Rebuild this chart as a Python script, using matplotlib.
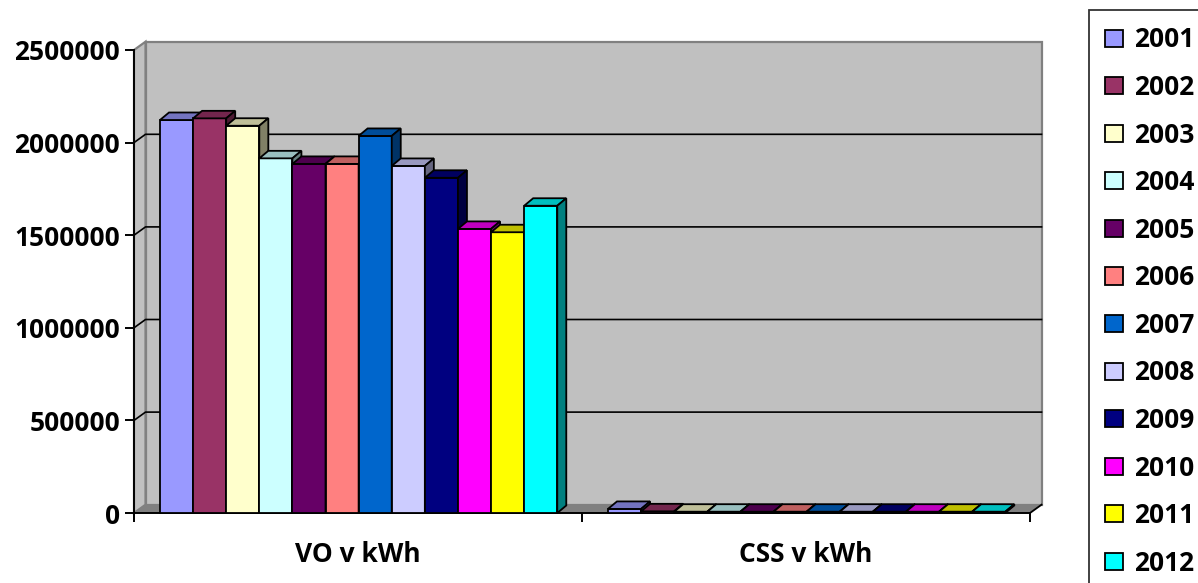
import matplotlib
matplotlib.use("Agg")
import matplotlib.pyplot as plt
from matplotlib.patches import Polygon, Patch
import matplotlib.colors as mcolors

plt.rcParams['font.family'] = ['Open Sans', 'DejaVu Sans']
plt.rcParams['font.weight'] = 'bold'

# data
categories = ["VO v kWh", "CSS v kWh"]
years = ["2001", "2002", "2003", "2004", "2005", "2006",
         "2007", "2008", "2009", "2010", "2011", "2012"]
vo_kwh = [2122000, 2131000, 2091000, 1915000, 1885000, 1885000,
          2036000, 1874000, 1810000, 1534000, 1516000, 1659000]
css_kwh = [22000, 9000, 7000, 7000, 7000, 7000,
           7000, 7000, 7000, 7000, 7000, 7000]
y_ticks = [0, 500000, 1000000, 1500000, 2000000, 2500000]

colors = ["#9999FF", "#993366", "#FFFFCC", "#CCFFFF", "#660066", "#FF8080",
          "#0066CC", "#CCCCFF", "#000080", "#FF00FF", "#FFFF00", "#00FFFF"]

ymax = 2500000
# 3d depth offsets (in data units)
wdx, wdy = 0.0257, 44800     # walls
bdx, bdy = 0.0201, 40500     # bars
bar_w = 0.0739
group_start = -0.442


def shade(c, f):
    r, g, b = mcolors.to_rgb(c)
    return (r * f, g * f, b * f)


fig = plt.figure(figsize=(11.98, 5.83), dpi=100)
ax = fig.add_axes([134 / 1198, 70 / 583, 896 / 1198, 463 / 583])
ax.set_xlim(-0.5, 1.5)
ax.set_ylim(0, ymax)
ax.patch.set_visible(False)

# back wall, side wall, floor
ax.add_patch(Polygon([(-0.5 + wdx, wdy), (1.5 + wdx, wdy), (1.5 + wdx, ymax + wdy),
                      (-0.5 + wdx, ymax + wdy)], closed=True, fc="#C0C0C0",
                     ec="#808080", lw=1.6, clip_on=False, zorder=0))
ax.add_patch(Polygon([(-0.5, 0), (-0.5 + wdx, wdy), (-0.5 + wdx, ymax + wdy), (-0.5, ymax)],
                     closed=True, fc="#C0C0C0", ec="#808080", lw=1.6, clip_on=False, zorder=0.5))
ax.add_patch(Polygon([(-0.5, 0), (1.5, 0), (1.5 + wdx, wdy), (-0.5 + wdx, wdy)],
                     closed=True, fc="#808080", ec="none", clip_on=False, zorder=0.6))
ax.plot([1.5, 1.5 + wdx], [0, wdy], color="black", lw=1.3, clip_on=False, zorder=0.7)

# gridlines on side and back wall
for v in y_ticks[1:-1]:
    ax.plot([-0.5, -0.5 + wdx, 1.5 + wdx], [v, v + wdy, v + wdy],
            color="black", lw=1.2, clip_on=False, zorder=1)

# 3d bars
for c, series in enumerate([vo_kwh, css_kwh]):
    for i, v in enumerate(series):
        x0 = c + group_start + i * bar_w
        x1 = x0 + bar_w
        z = 3 + i * 0.01
        col = colors[i]
        ax.add_patch(Polygon([(x0, 0), (x1, 0), (x1, v), (x0, v)], closed=True,
                             fc=col, ec="black", lw=1.3, zorder=z, clip_on=False))
        ax.add_patch(Polygon([(x0, v), (x1, v), (x1 + bdx, v + bdy), (x0 + bdx, v + bdy)],
                             closed=True, fc=shade(col, 0.75), ec="black", lw=1.3,
                             zorder=z, clip_on=False))
        ax.add_patch(Polygon([(x1, 0), (x1 + bdx, bdy), (x1 + bdx, v + bdy), (x1, v)],
                             closed=True, fc=shade(col, 0.5), ec="black", lw=1.3,
                             zorder=z, clip_on=False))

# axes
for s in ["top", "right"]:
    ax.spines[s].set_visible(False)
ax.spines["left"].set_linewidth(1.4)
ax.spines["bottom"].set_linewidth(1.4)
ax.spines["left"].set_zorder(2)
ax.spines["bottom"].set_zorder(2)

ax.set_yticks(y_ticks)
ax.set_yticklabels([str(t) for t in y_ticks])
ax.tick_params(axis="y", direction="out", length=6.5, width=1.4, pad=3.5,
               labelsize=19)

ax.set_xticks([0, 1])
ax.set_xticklabels(categories)
ax.set_xticks([-0.5, 0.5, 1.5], minor=True)
ax.tick_params(axis="x", which="major", length=0, pad=20, labelsize=19)
ax.tick_params(axis="x", which="minor", direction="out", length=6.5, width=1.4)

# legend
handles = [Patch(fc=col, ec="black", lw=1.3) for col in colors]
leg = fig.legend(handles, years, loc="upper left",
                 bbox_to_anchor=(1089 / 1198, 1 - 10 / 583),
                 bbox_transform=fig.transFigure, borderaxespad=0,
                 fontsize=19, frameon=True, fancybox=False, shadow=False,
                 handlelength=0.68, handleheight=0.62, handletextpad=0.4,
                 labelspacing=0.78, borderpad=0.62)
leg.get_frame().set_edgecolor("black")
leg.get_frame().set_linewidth(1.3)

fig.savefig("out.png", dpi=100, facecolor="white")
